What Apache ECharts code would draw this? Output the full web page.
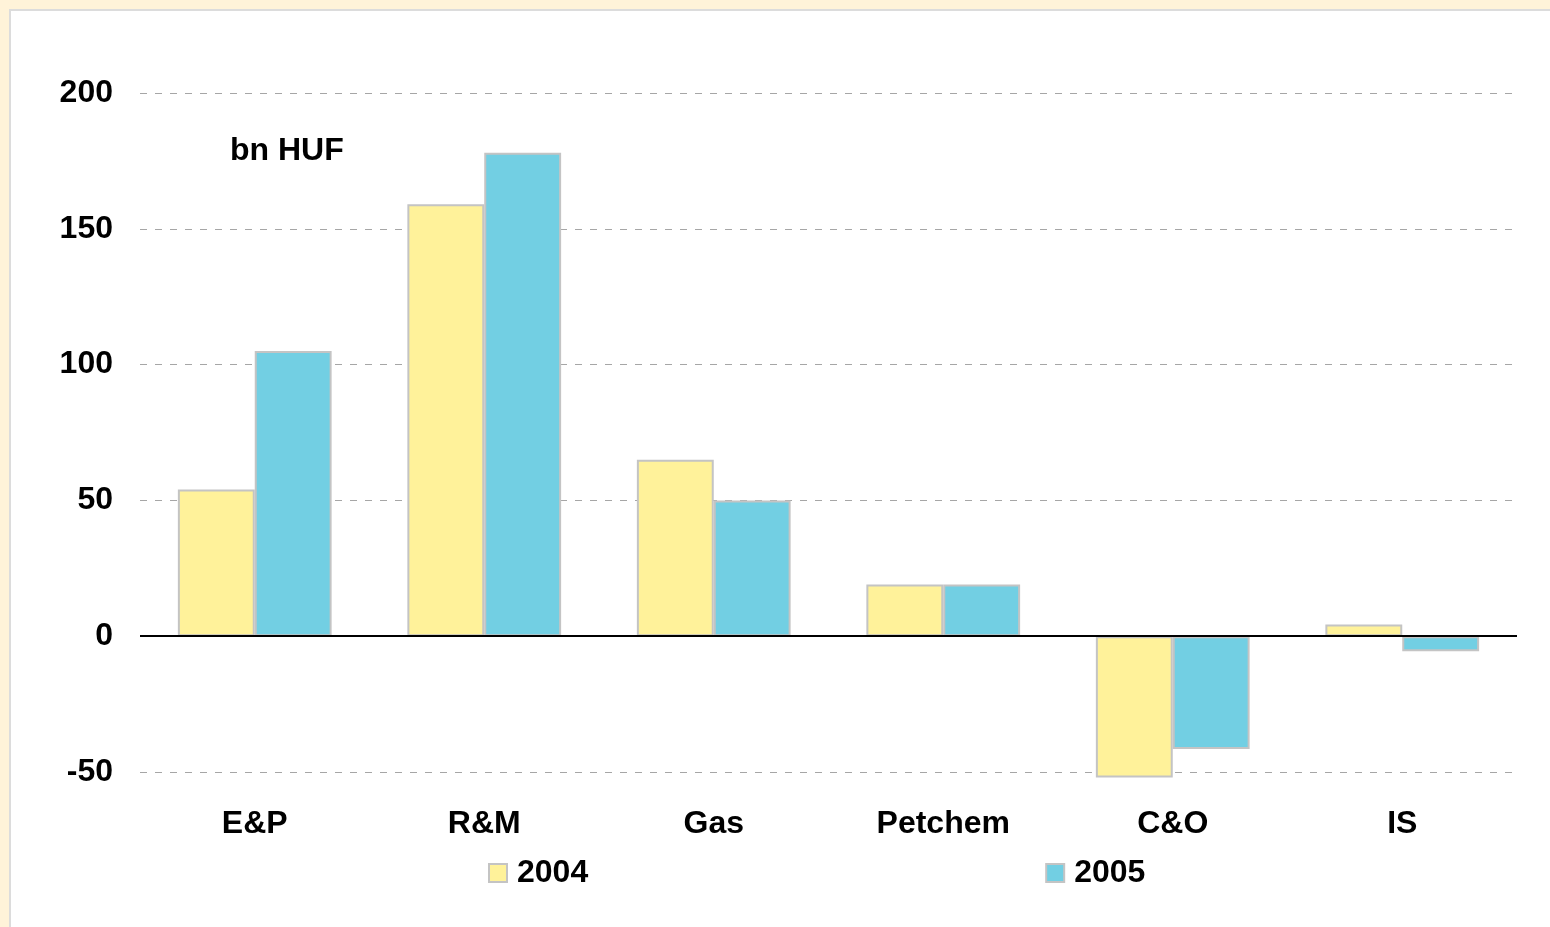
<!DOCTYPE html>
<html>
<head>
<meta charset="utf-8">
<script src="https://cdn.jsdelivr.net/npm/echarts@6/dist/echarts.min.js"></script>
<style>
  html, body { margin: 0; padding: 0; background: #fff3d9; }
  .panel {
    position: absolute; left: 9px; top: 9px; right: 0; bottom: 0;
    background: #fff; border-left: 2px solid #dcdcdc; border-top: 2px solid #dcdcdc;
  }
  #chart { position: absolute; left: 0; top: 0; width: 1550px; height: 927px; }
</style>
</head>
<body>
<div class="panel"></div>
<div id="chart"></div>
<script>
const categories = ['E&P', 'R&M', 'Gas', 'Petchem', 'C&O', 'IS']
const values2004 = [54, 159, 65, 19, -52, 4.3]
const values2005 = [105, 178, 50, 19, -41.5, -5.5]
const yTicks = { min: -50, max: 200, interval: 50 }

const font = '"Liberation Sans", Arial, sans-serif'
const barBorder = { borderColor: '#c4c4c4', borderWidth: 2 }

const chart = echarts.init(document.getElementById('chart'), null, { renderer: 'canvas' })

chart.setOption({
  backgroundColor: 'transparent',
  animation: false,
  textStyle: { fontFamily: font },
  grid: { left: 140, right: 33, top: 93, bottom: 155 },
  legend: {
    left: 488,
    top: 857,
    padding: 0,
    itemWidth: 18,
    itemHeight: 18,
    itemGap: 457,
    icon: 'rect',
    data: ['2004', '2005'],
    textStyle: { fontSize: 32, fontWeight: 'bold', color: '#000', fontFamily: font, padding: [0, 0, 0, 5] },
  },
  graphic: [
    {
      type: 'text',
      left: 230,
      top: 135,
      style: { text: 'bn HUF', font: 'bold 32px ' + font, fill: '#000' },
    },
  ],
  xAxis: {
    type: 'category',
    data: categories,
    axisLine: { show: false, onZero: false },
    axisTick: { show: false },
    axisLabel: { color: '#000', fontSize: 32, fontWeight: 'bold', margin: 36 },
  },
  yAxis: {
    type: 'value',
    min: yTicks.min,
    max: yTicks.max,
    interval: yTicks.interval,
    axisLine: { show: false },
    axisTick: { show: false },
    axisLabel: { color: '#000', fontSize: 32, fontWeight: 'bold', margin: 27, padding: [4, 0, 0, 0] },
    splitLine: { lineStyle: { color: '#a6a6a6', width: 1, type: [7, 8] } },
  },
  series: [
    {
      name: '2004',
      type: 'bar',
      data: values2004,
      clip: false,
      barGap: '0%',
      barCategoryGap: '33%',
      itemStyle: { color: '#fff29a', ...barBorder },
      markLine: {
        silent: true,
        symbol: 'none',
        label: { show: false },
        lineStyle: { color: '#000', type: 'solid', width: 2 },
        data: [{ yAxis: 0 }],
      },
      z: 2,
    },
    {
      name: '2005',
      type: 'bar',
      data: values2005,
      clip: false,
      itemStyle: { color: '#72cfe3', ...barBorder },
      z: 2,
    },
  ],
})
</script>
</body>
</html>
